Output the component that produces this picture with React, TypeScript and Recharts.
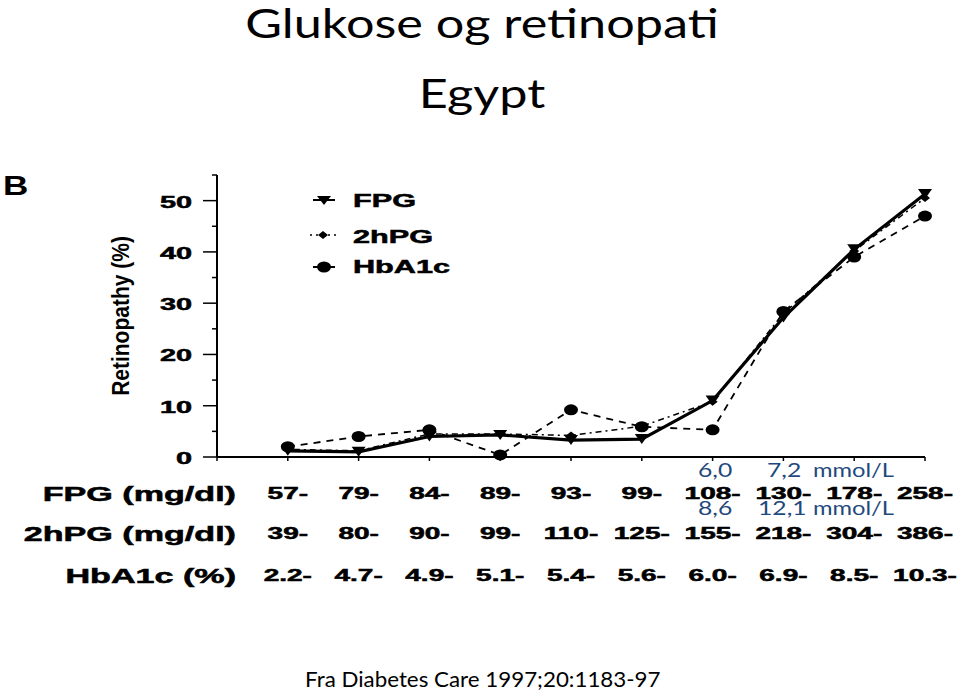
import React from "react";
import { LineChart, Line, XAxis, YAxis, Legend } from "recharts";

// ---- data ----
const deciles = [1, 2, 3, 4, 5, 6, 7, 8, 9, 10];
const fpgLabels = ["57-", "79-", "84-", "89-", "93-", "99-", "108-", "130-", "178-", "258-"];
const hpgLabels = ["39-", "80-", "90-", "99-", "110-", "125-", "155-", "218-", "304-", "386-"];
const hba1cLabels = ["2.2-", "4.7-", "4.9-", "5.1-", "5.4-", "5.6-", "6.0-", "6.9-", "8.5-", "10.3-"];
const fpgValues = [1.2, 1.0, 4.0, 4.3, 3.3, 3.5, 11.0, 27.2, 40.5, 51.3];
const hpgValues = [1.5, 1.2, 4.5, 4.5, 4.2, 6.0, 10.8, 28.0, 40.2, 50.5];
const hba1cValues = [2.0, 4.0, 5.3, 0.4, 9.2, 5.9, 5.3, 28.4, 39.0, 47.0];
const yTicks = [0, 5, 10, 15, 20, 25, 30, 35, 40, 45, 50, 55];
const xTicks = [0, 1, 2, 3, 4, 5, 6, 7, 8, 9, 10];

const data = deciles.map((d, i) => ({
  x: d,
  fpg: fpgValues[i],
  hpg: hpgValues[i],
  hba1c: hba1cValues[i],
}));

const FONT = "'Liberation Sans', Arial, sans-serif";
const TITLE_FONT = "Lato, 'Open Sans', sans-serif";
const SX = 1.75;
const BLUE = "#1F497D";
const HEAVY = { stroke: "#000", strokeWidth: 0.5 };

const TriDown = (p: any) => {
  const { cx, cy } = p;
  if (cx == null || cy == null) return null;
  return <polygon key={p.index} points={`${cx - 7},${cy - 5} ${cx + 7},${cy - 5} ${cx},${cy + 5}`} fill="#000" />;
};
const Ell = (p: any) => {
  const { cx, cy } = p;
  if (cx == null || cy == null) return null;
  return <ellipse key={p.index} cx={cx} cy={cy} rx={7} ry={5.5} fill="#000" />;
};
const Diamond = (p: any) => {
  const { cx, cy } = p;
  if (cx == null || cy == null) return null;
  return <polygon key={p.index} points={`${cx - 5},${cy} ${cx},${cy - 4} ${cx + 5},${cy} ${cx},${cy + 4}`} fill="#000" />;
};

const YTick = (p: any) => {
  const { x, y, payload } = p;
  const v = payload.value;
  const major = v % 10 === 0;
  return (
    <g>
      <line x1={x} x2={x - (major ? 14 : 5)} y1={y} y2={y} stroke="#000" strokeWidth={1.5} />
      {major && v <= 50 ? (
        <text
          transform={`translate(${x - 25},${y + 7}) scale(${SX},1)`}
          textAnchor="end"
          fontFamily={FONT}
          fontWeight="bold"
          fontSize={16.5}
          fill="#000"
          {...HEAVY}
        >
          {v}
        </text>
      ) : null}
    </g>
  );
};

const XTick = (p: any) => {
  const { x, y, payload } = p;
  const v = payload.value;
  const i = v - 1;
  const rows = i >= 0 && i < deciles.length;
  const t = (s: string, dy: number) => (
    <text
      transform={`translate(${x},${y + dy}) scale(${SX},1)`}
      textAnchor="middle"
      fontFamily={FONT}
      fontWeight="bold"
      fontSize={16}
      fill="#000"
      {...HEAVY}
    >
      {s}
    </text>
  );
  return (
    <g>
      <line x1={x} x2={x} y1={y} y2={y + 4} stroke="#000" strokeWidth={1.5} />
      {rows ? (
        <g>
          {t(fpgLabels[i], 42)}
          {t(hpgLabels[i], 82)}
          {t(hba1cLabels[i], 124)}
        </g>
      ) : null}
    </g>
  );
};

const LegendContent = () => {
  const label = (s: string, y: number) => (
    <text
      transform={`translate(53,${y}) scale(${SX},1)`}
      fontFamily={FONT}
      fontWeight="bold"
      fontSize={17.5}
      fill="#000"
      {...HEAVY}
    >
      {s}
    </text>
  );
  return (
    <svg width={200} height={100} style={{ display: "block" }}>
      <line x1={13} x2={35} y1={20} y2={20} stroke="#000" strokeWidth={2} />
      <polygon points="17,16 31,16 24,25" fill="#000" />
      {label("FPG", 27)}
      <line x1={10} x2={36} y1={55} y2={55} stroke="#000" strokeWidth={1.5} strokeDasharray="2 4" />
      <polygon points="18,55 23,51 28,55 23,59" fill="#000" />
      {label("2hPG", 63)}
      <line x1={13} x2={35} y1={87} y2={87} stroke="#000" strokeWidth={2} />
      <ellipse cx={24} cy={87} rx={7} ry={5.5} fill="#000" />
      {label("HbA1c", 93)}
    </svg>
  );
};

const rowLabel = (s: string, y: number) => (
  <text
    transform={`translate(236,${y}) scale(${SX},1)`}
    textAnchor="end"
    fontFamily={FONT}
    fontWeight="bold"
    fontSize={19.5}
    fill="#000"
    {...HEAVY}
  >
    {s}
  </text>
);

export default function App() {
  return (
    <div style={{ position: "fixed", left: 0, top: 0, width: 960, height: 691, background: "#fff", overflow: "hidden" }}>
      <LineChart
        width={960}
        height={691}
        data={data}
        margin={{ top: 175, right: 35, bottom: 104, left: 157 }}
      >
        <XAxis
          dataKey="x"
          type="number"
          domain={[0, 10]}
          ticks={xTicks}
          interval={0}
          height={130}
          tickSize={0}
          tickMargin={0}
          tick={<XTick />}
          axisLine={{ stroke: "#000", strokeWidth: 2 }}
          tickLine={false}
        />
        <YAxis
          type="number"
          domain={[0, 55]}
          ticks={yTicks}
          interval={0}
          width={60}
          tickSize={0}
          tickMargin={0}
          tick={<YTick />}
          axisLine={{ stroke: "#000", strokeWidth: 2 }}
          tickLine={false}
        />
        <Legend
          layout="horizontal"
          verticalAlign="middle"
          align="center"
          content={<LegendContent />}
          wrapperStyle={{ position: "absolute", left: 300, top: 180, width: 200, height: 100 }}
        />
        <Line
          dataKey="hba1c"
          name="HbA1c"
          stroke="#000"
          strokeWidth={1.8}
          strokeDasharray="7 6"
          dot={Ell}
          isAnimationActive={false}
        />
        <Line
          dataKey="hpg"
          name="2hPG"
          stroke="#000"
          strokeWidth={1.5}
          strokeDasharray="2 4 6 4"
          dot={Diamond}
          isAnimationActive={false}
        />
        <Line
          dataKey="fpg"
          name="FPG"
          stroke="#000"
          strokeWidth={3.2}
          dot={TriDown}
          isAnimationActive={false}
        />
      </LineChart>
      <svg width={960} height={691} style={{ position: "absolute", left: 0, top: 0, pointerEvents: "none" }}>
        <text transform="translate(482,38) scale(1.26,1)" textAnchor="middle" fontFamily={TITLE_FONT} fontSize={40} fill="#000">
          Glukose og retinopati
        </text>
        <text transform="translate(482,108) scale(1.26,1)" textAnchor="middle" fontFamily={TITLE_FONT} fontSize={40} fill="#000">
          Egypt
        </text>
        <text transform="translate(3,195) scale(1.25,1)" fontFamily={FONT} fontWeight="bold" fontSize={28} fill="#000">
          B
        </text>
        <text
          transform="translate(129,316) scale(1.1,1) rotate(-90)"
          textAnchor="middle"
          fontFamily={FONT}
          fontWeight="bold"
          fontSize={21}
          fill="#000"
        >
          Retinopathy (%)
        </text>
        {rowLabel("FPG (mg/dl)", 501)}
        {rowLabel("2hPG (mg/dl)", 541)}
        {rowLabel("HbA1c (%)", 583)}
        <g fontFamily={TITLE_FONT} fontSize={19} fill={BLUE}>
          <text transform="translate(698,477) scale(1.3,1)">6,0</text>
          <text transform="translate(767,477) scale(1.3,1)">7,2</text>
          <text transform="translate(813,477) scale(1.25,1)">mmol/L</text>
          <text transform="translate(698,515) scale(1.3,1)">8,6</text>
          <text transform="translate(758,515) scale(1.3,1)">12,1</text>
          <text transform="translate(813,515) scale(1.25,1)">mmol/L</text>
        </g>
        <text transform="translate(305,687) scale(1.09,1)" fontFamily={TITLE_FONT} fontSize={20.5} fill="#000">
          Fra Diabetes Care 1997;20:1183-97
        </text>
      </svg>
    </div>
  );
}
